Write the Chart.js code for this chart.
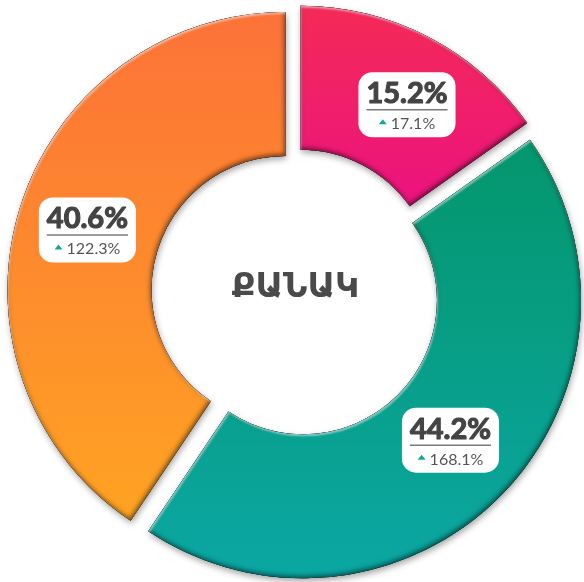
<!DOCTYPE html>
<html>
<head>
<meta charset="utf-8">
<script src="https://cdn.jsdelivr.net/npm/chart.js@4"></script>
<style>
  html, body { margin: 0; padding: 0; background: #fff; }
  #wrap { width: 584px; height: 582px; position: relative; }
</style>
</head>
<body>
<div id="wrap"><canvas id="myChart"></canvas></div>
<script>
// shares of each slice and their change
const shares = [15.2, 44.2, 40.6];
const changes = [17.1, 168.1, 122.3];
const centerTitle = "ՔԱՆԱԿ";

const topColors = ["#F52A56", "#04966C", "#FC7238"];
const bottomColors = ["#EB137F", "#0BA7A3", "#FFA322"];
const explode = 10.5;
const labelNudge = [[12, 4], [0, -4], [-1, 0]];

const total = shares.reduce((a, b) => a + b, 0);

// vertical gradient spanning the slice's own height
function sliceGradient(c) {
    const chart = c.chart;
    const area = chart.chartArea;
    const i = c.dataIndex;
    if (!area) return topColors[i];
    const cx = (area.left + area.right) / 2;
    const cy = (area.top + area.bottom) / 2;
    const R = chart.options.radius, r = chart.options.cutout;
    const before = shares.slice(0, i).reduce((a, b) => a + b, 0);
    const a0 = before / total * Math.PI * 2 - Math.PI / 2;
    const a1 = (before + shares[i]) / total * Math.PI * 2 - Math.PI / 2;
    let minY = Infinity, maxY = -Infinity;
    for (let k = 0; k <= 40; k++) {
        const a = a0 + (a1 - a0) * k / 40;
        for (const rad of [R, r]) {
            const y = cy + Math.sin(a) * rad;
            minY = Math.min(minY, y);
            maxY = Math.max(maxY, y);
        }
    }
    const g = chart.ctx.createLinearGradient(0, minY, 0, maxY);
    g.addColorStop(0, topColors[i]);
    g.addColorStop(1, bottomColors[i]);
    return g;
}

function arcPath(ctx, p) {
    ctx.moveTo(p.x + Math.cos(p.startAngle) * p.outerRadius, p.y + Math.sin(p.startAngle) * p.outerRadius);
    ctx.arc(p.x, p.y, p.outerRadius, p.startAngle, p.endAngle);
    ctx.arc(p.x, p.y, p.innerRadius, p.endAngle, p.startAngle, true);
    ctx.closePath();
}

// shading along the inside of the slice edge
function innerShadow(ctx, p, color, ox, oy, blur) {
    ctx.save();
    ctx.beginPath();
    arcPath(ctx, p);
    ctx.clip();
    ctx.beginPath();
    arcPath(ctx, p);
    ctx.rect(-2000, -2000, 5000, 5000);
    ctx.shadowColor = color;
    ctx.shadowBlur = blur;
    ctx.shadowOffsetX = ox;
    ctx.shadowOffsetY = oy;
    ctx.fillStyle = "#000";
    ctx.fill("evenodd");
    ctx.restore();
}

// pulls every slice out from the centre and gives it a raised look
const explodePlugin = {
    id: "explode",
    beforeDatasetDraw(chart, args) {
        const ctx = chart.ctx;
        args.meta.data.forEach(arc => {
            const mid = (arc.startAngle + arc.endAngle) / 2;
            ctx.save();
            ctx.translate(Math.cos(mid) * explode, Math.sin(mid) * explode);
            ctx.save();
            ctx.shadowColor = "rgba(0,0,0,0.35)";
            ctx.shadowBlur = 6;
            ctx.shadowOffsetX = 1;
            ctx.shadowOffsetY = 3;
            arc.draw(ctx);
            ctx.restore();
            const p = arc.getProps(["x", "y", "startAngle", "endAngle", "innerRadius", "outerRadius"]);
            innerShadow(ctx, p, "rgba(0,0,0,0.55)", -1, -2, 5);
            innerShadow(ctx, p, "rgba(255,255,255,0.5)", 1, 2, 2);
            ctx.restore();
        });
        return false;
    }
};

function roundRect(ctx, x, y, w, h, r) {
    ctx.beginPath();
    ctx.moveTo(x + r, y);
    ctx.arcTo(x + w, y, x + w, y + h, r);
    ctx.arcTo(x + w, y + h, x, y + h, r);
    ctx.arcTo(x, y + h, x, y, r);
    ctx.arcTo(x, y, x + w, y, r);
    ctx.closePath();
}

const bigFont = "bold 29px Lato";
const smallFont = "16px Lato";

const labelPlugin = {
    id: "sliceLabels",
    afterDraw(chart) {
        const ctx = chart.ctx;
        ctx.save();
        chart.getDatasetMeta(0).data.forEach((arc, i) => {
            const mid = (arc.startAngle + arc.endAngle) / 2;
            const c = arc.getCenterPoint();
            const x = c.x + Math.cos(mid) * explode + labelNudge[i][0];
            const y = c.y + Math.sin(mid) * explode + labelNudge[i][1];
            const big = shares[i].toFixed(1) + "%";
            const small = changes[i].toFixed(1) + "%";
            ctx.font = bigFont;
            const bw = ctx.measureText(big).width;
            ctx.font = smallFont;
            const sw = ctx.measureText(small).width;
            const lw = sw + 12;
            const w = Math.max(bw, lw) + 16, h = 65;
            const top = y - h / 2;

            ctx.fillStyle = "#fff";
            roundRect(ctx, x - w / 2, top, w, h, 14);
            ctx.fill();

            // bold figure, stroked a little to make it heavier
            ctx.fillStyle = "#444";
            ctx.strokeStyle = "#444";
            ctx.lineWidth = 1.2;
            ctx.lineJoin = "round";
            ctx.font = bigFont;
            ctx.textAlign = "center";
            ctx.textBaseline = "alphabetic";
            ctx.fillText(big, x, top + 31);
            ctx.strokeText(big, x, top + 31);

            ctx.strokeStyle = "#7a7a7a";
            ctx.lineWidth = 1.5;
            ctx.beginPath();
            ctx.moveTo(x - bw / 2, top + 37.5);
            ctx.lineTo(x + bw / 2, top + 37.5);
            ctx.stroke();

            const sx = x - lw / 2;
            ctx.fillStyle = "#17A59B";
            ctx.beginPath();
            ctx.moveTo(sx, top + 52);
            ctx.lineTo(sx + 8, top + 52);
            ctx.lineTo(sx + 4, top + 47);
            ctx.closePath();
            ctx.fill();

            ctx.fillStyle = "#555";
            ctx.font = smallFont;
            ctx.textAlign = "left";
            ctx.fillText(small, sx + 12, top + 57);
        });

        const area = chart.chartArea;
        ctx.fillStyle = "#4a4a4a";
        ctx.font = "bold 34px 'DejaVu Sans'";
        ctx.textAlign = "center";
        ctx.textBaseline = "alphabetic";
        ctx.fillText(centerTitle, (area.left + area.right) / 2, 297);
        ctx.restore();
    }
};

const canvas = document.getElementById("myChart");
new Chart(canvas, {
    type: "doughnut",
    data: {
        datasets: [{
            data: shares,
            backgroundColor: sliceGradient,
            borderWidth: 0
        }]
    },
    options: {
        responsive: true,
        maintainAspectRatio: false,
        animation: false,
        radius: 278,
        cutout: 139,
        layout: { padding: { left: 7, top: 4, right: 0, bottom: 0 } },
        plugins: {
            legend: { display: false },
            tooltip: { enabled: false }
        },
        events: []
    },
    plugins: [explodePlugin, labelPlugin]
});
</script>
</body>
</html>
